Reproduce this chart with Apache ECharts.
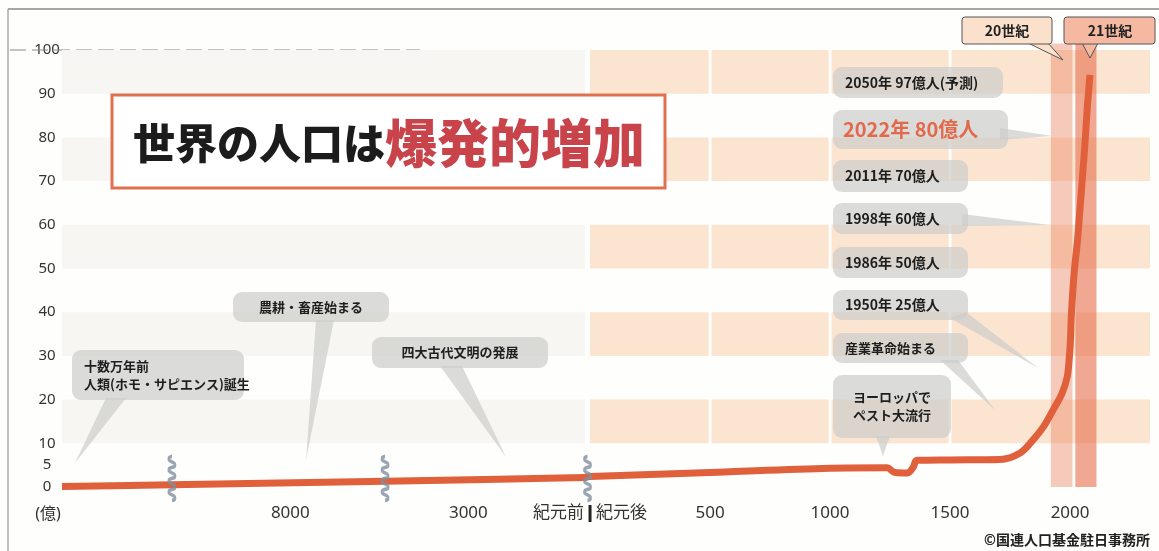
<!DOCTYPE html>
<html><head><meta charset="utf-8">
<script src="https://cdn.jsdelivr.net/npm/echarts@6/dist/echarts.min.js"></script>
<style>html,body{margin:0;padding:0;background:#fefefd}#c{width:1159px;height:551px}</style>
</head><body><div id="c"></div>
<script>
// ---- data (years: negative = BC; population in 億人) ----
const years = [-150000, -10500, -6000, -1600, 0, 500, 1000, 1237, 1271, 1321, 1346, 1362, 1500, 1708, 1792, 1846, 1888, 1929, 1967, 1988, 1996, 2001, 2006, 2017, 2031, 2042, 2053, 2063, 2072, 2083];
const population = [0.1, 0.5, 1.3, 2.2, 2.4, 3.3, 4.3, 4.4, 3.3, 3.2, 4.5, 6.1, 6.2, 6.3, 7.8, 10.8, 13.7, 17.6, 21.5, 25.2, 29.1, 33, 40, 49, 56.5, 64.1, 71.9, 79.4, 87, 94.3];
const xTickYears = [-8000, -3000, 0, 500, 1000, 1500, 2000];
const xTickLabels = ['8000', '3000', '紀元前 {bar|} 紀元後', '500', '1000', '1500', '2000'];
const yTickValues = [0, 5, 10, 20, 30, 40, 50, 60, 70, 80, 90, 100];
const bandRanges = [[10, 20], [30, 40], [50, 60], [70, 80], [90, 100]];
const gapYears = [500, 1000, 1500];
const centuryRanges = [[1920, 2010], [2022, 2110]];
const breakYears = [-10500, -5000, -800];
// broken time scale: [yearFrom, yearTo, axisFrom, axisTo]
const scaleSegments = [
  [-150000, -10500, -2200, -1742],
  [-10500, -6000, -1742, -854],
  [-6000, -4000, -854, -854],
  [-4000, -1600, -854, -21],
  [-1600, 0, -21, 0],
  [0, 2400, 0, 2400]
];
function yearToAxis(y) {
  for (const s of scaleSegments) {
    if (y >= s[0] && y <= s[1]) return s[1] === s[0] ? s[2] : s[2] + (y - s[0]) / (s[1] - s[0]) * (s[3] - s[2]);
  }
  return y;
}
const X_MIN = -2200, X_MAX = 2333;
const xTickPos = xTickYears.map(yearToAxis);

const chart = echarts.init(document.getElementById('c'));
const FONT = "'Noto Sans','Noto Sans CJK JP',sans-serif";
const JP = "'Noto Sans CJK JP',sans-serif";

function rectItem(fill) {
  return function (params, api) {
    const p0 = api.coord([api.value(0), api.value(3)]);
    const p1 = api.coord([api.value(1), api.value(2)]);
    return { type: 'rect', shape: { x: p0[0], y: p0[1], width: p1[0] - p0[0], height: p1[1] - p0[1] }, style: { fill: typeof fill === 'function' ? fill(params.dataIndex) : fill } };
  };
}

const leftBands = bandRanges.map(b => [X_MIN, yearToAxis(-1600), b[0], b[1]]);
const rightBands = bandRanges.map(b => [0, X_MAX, b[0], b[1]]);
const gapRects = gapYears.map(y => [yearToAxis(y) - 6, yearToAxis(y) + 6, 0, 100]);
const centuryRects = centuryRanges.map(c => [yearToAxis(c[0]), yearToAxis(c[1]), 0, 101.5]);
const centuryFills = ['rgba(236,130,95,0.42)', 'rgba(230,110,75,0.6)'];

function bubble(x, y, w, h, tail, lines, opts) {
  opts = opts || {};
  const fill = 'rgba(205,205,202,0.72)';
  const els = [];
  if (tail) els.push({ type: 'polygon', z: 10, shape: { points: tail }, style: { fill: fill } });
  els.push({ type: 'rect', z: 10, shape: { x: x, y: y, width: w, height: h, r: 9 }, style: { fill: fill } });
  const lh = opts.lh || 18;
  const startY = y + h / 2 - (lines.length - 1) * lh / 2;
  lines.forEach((t, i) => {
    els.push({ type: 'text', z: 11, x: opts.center ? x + w / 2 : x + (opts.pad || 12), y: startY + i * lh,
      style: { text: t, fill: opts.color || '#1e1e1e', font: 'bold ' + (opts.size || 13) + 'px ' + JP,
        align: opts.center ? 'center' : 'left', verticalAlign: 'middle' } });
  });
  return els;
}

let graphics = [];
// frame
graphics.push({ type: 'line', z: 1, shape: { x1: 8, y1: 9, x2: 1159, y2: 9 }, style: { stroke: '#888', lineWidth: 1.5 } });
graphics.push({ type: 'line', z: 1, shape: { x1: 8, y1: 9, x2: 8, y2: 551 }, style: { stroke: '#aaa', lineWidth: 1.5 } });
graphics.push({ type: 'line', z: 1, shape: { x1: 10, y1: 50, x2: 420, y2: 50 }, style: { stroke: '#888', lineWidth: 1, lineDash: [16, 6] } });
// title
graphics.push({ type: 'rect', z: 10, shape: { x: 112, y: 95, width: 553, height: 93 }, style: { fill: '#fff', stroke: '#e0704f', lineWidth: 3 } });
graphics.push({ type: 'text', z: 11, x: 133, y: 143, style: { text: '{a|世界の人口は}{b|爆発的増加}', verticalAlign: 'middle',
  rich: { a: { font: '900 42px ' + JP, fill: '#1c1c1c' }, b: { font: '900 52px ' + JP, fill: '#c9434b' } } } });
// left bubbles
graphics = graphics.concat(bubble(72, 350, 172, 50, [[106, 398], [126, 398], [75, 463]], ['十数万年前', '人類(ホモ・サピエンス)誕生']));
graphics = graphics.concat(bubble(233, 292, 156, 30, [[316, 320], [334, 320], [306, 460]], ['農耕・畜産始まる'], { center: true }));
graphics = graphics.concat(bubble(372, 337, 176, 31, [[440, 366], [462, 366], [506, 457]], ['四大古代文明の発展'], { center: true }));
// right bubbles
graphics = graphics.concat(bubble(833, 67, 170, 31, null, ['2050年 97億人(予測)'], { size: 14 }));
graphics = graphics.concat(bubble(833, 110, 175, 39, [[1000, 128], [1000, 140], [1052, 136]], ['2022年 80億人'], { size: 20, color: '#e2694b', pad: 10 }));
graphics = graphics.concat(bubble(833, 160, 135, 32, null, ['2011年 70億人'], { size: 14 }));
graphics = graphics.concat(bubble(833, 203, 135, 31, [[962, 214], [962, 226], [1050, 225]], ['1998年 60億人'], { size: 14 }));
graphics = graphics.concat(bubble(833, 247, 135, 31, null, ['1986年 50億人'], { size: 14 }));
graphics = graphics.concat(bubble(833, 290, 135, 30, [[950, 318], [966, 312], [1038, 368]], ['1950年 25億人'], { size: 14 }));
graphics = graphics.concat(bubble(833, 333, 135, 30, [[940, 360], [958, 360], [995, 410]], ['産業革命始まる'], { size: 13 }));
graphics = graphics.concat(bubble(833, 375, 118, 63, [[876, 436], [890, 436], [883, 456]], ['ヨーロッパで', 'ペスト大流行'], { center: true, lh: 18 }));
// century tabs
graphics.push({ type: 'polygon', z: 12, shape: { points: [[1028, 43], [1048, 43], [1063, 60]] }, style: { fill: '#fbe1cc', stroke: '#555', lineWidth: 1 } });
graphics.push({ type: 'rect', z: 12, shape: { x: 962, y: 17, width: 90, height: 27, r: 3 }, style: { fill: '#fbe1cc', stroke: '#555', lineWidth: 1 } });
graphics.push({ type: 'text', z: 13, x: 1007, y: 31, style: { text: '20世紀', font: 'bold 14px ' + JP, fill: '#222', align: 'center', verticalAlign: 'middle' } });
graphics.push({ type: 'polygon', z: 12, shape: { points: [[1082, 43], [1098, 43], [1090, 58]] }, style: { fill: '#f5b9a2', stroke: '#555', lineWidth: 1 } });
graphics.push({ type: 'rect', z: 12, shape: { x: 1064, y: 17, width: 91, height: 27, r: 3 }, style: { fill: '#f5b9a2', stroke: '#555', lineWidth: 1 } });
graphics.push({ type: 'text', z: 13, x: 1110, y: 31, style: { text: '21世紀', font: 'bold 14px ' + JP, fill: '#222', align: 'center', verticalAlign: 'middle' } });
// unit + credit
graphics.push({ type: 'text', z: 5, x: 48, y: 514, style: { text: '(億)', font: '16px ' + FONT, fill: '#333', align: 'center', verticalAlign: 'middle' } });
graphics.push({ type: 'text', z: 5, x: 1150, y: 540, style: { text: '©国連人口基金駐日事務所', font: 'bold 14px ' + JP, fill: '#222', align: 'right', verticalAlign: 'middle' } });

const option = {
  backgroundColor: '#fefefd',
  animation: false,
  grid: { left: 62, right: 9, top: 50, bottom: 64 },
  xAxis: {
    type: 'value', min: X_MIN, max: X_MAX,
    axisLine: { show: false }, axisTick: { show: false }, splitLine: { show: false },
    axisLabel: {
      customValues: xTickPos, margin: 18, fontSize: 17, color: '#333', fontFamily: FONT,
      formatter: function (v) {
        const i = xTickPos.findIndex(p => Math.abs(p - v) < 0.5);
        return i >= 0 ? xTickLabels[i] : '';
      },
      rich: { bar: { width: 3, height: 17, backgroundColor: '#222' } }
    }
  },
  yAxis: {
    type: 'value', min: 0, max: 100,
    axisLine: { show: false }, axisTick: { show: false }, splitLine: { show: false },
    axisLabel: { customValues: yTickValues, fontSize: 15, color: '#333', fontFamily: FONT, align: 'center', margin: 15 }
  },
  series: [
    { type: 'custom', z: 1, silent: true, renderItem: rectItem('#f7f6f3'), encode: { x: [0, 1], y: [2, 3] }, data: leftBands },
    { type: 'custom', z: 1, silent: true, renderItem: rectItem('#fbe4d0'), encode: { x: [0, 1], y: [2, 3] }, data: rightBands },
    { type: 'custom', z: 1, silent: true, renderItem: rectItem('#fefefd'), encode: { x: [0, 1], y: [2, 3] }, data: gapRects },
    { type: 'custom', z: 1, silent: true, clip: false, renderItem: rectItem(i => centuryFills[i]), encode: { x: [0, 1], y: [2, 3] }, data: centuryRects },
    {
      type: 'line', z: 3, name: '世界の人口', symbol: 'none', smooth: 0.35,
      lineStyle: { width: 7, color: '#e0603c', cap: 'butt', join: 'round' },
      data: years.map((y, i) => [yearToAxis(y), population[i]])
    },
    {
      type: 'scatter', z: 4, silent: true,
      symbol: 'path://M5,0 C1,4 9,7 5,11 C1,15 9,18 5,22 C1,26 9,29 5,33 C1,37 9,40 5,44',
      symbolSize: [8, 44],
      itemStyle: { color: 'none', borderColor: '#7f8f9e', borderWidth: 1.6 },
      data: breakYears.map(y => [yearToAxis(y), 1.95])
    }
  ],
  graphic: graphics
};
chart.setOption(option);
</script>
</body></html>
